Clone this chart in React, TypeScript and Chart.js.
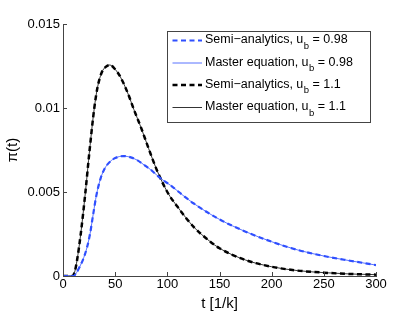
import React, { useEffect, useRef } from "react";
import { Chart, registerables } from "chart.js";

Chart.register(...registerables);

// Semi-analytics & master equation, u_b = 0.98 (blue)
const tBlue = [0, 5, 10, 13, 16, 19, 23, 26, 29, 32, 36, 40, 45, 50, 58, 65, 71, 78, 84, 90, 96, 103, 115, 125, 150, 175, 200, 225, 250, 275, 300];
const piBlue = [0, 0, 0, 0.0002, 0.00055, 0.00095, 0.0017, 0.00254, 0.0037, 0.0048, 0.0058, 0.0064, 0.0068, 0.00702, 0.00714, 0.00706, 0.0069, 0.0066, 0.00633, 0.006, 0.0057, 0.0054, 0.0048, 0.00433, 0.00337, 0.00264, 0.00204, 0.00155, 0.00119, 0.00091, 0.00065];

// Semi-analytics & master equation, u_b = 1.1 (black)
const tBlack = [0, 5, 9, 11, 13.5, 17, 21.5, 25.5, 30, 33, 37, 41, 45, 50, 55, 62, 68, 75, 82, 90, 100, 110, 125, 140, 150, 175, 200, 225, 250, 275, 300];
const piBlack = [0, 0, 0, 0.0002, 0.00095, 0.0025, 0.005, 0.0075, 0.01, 0.0112, 0.0121, 0.01245, 0.01256, 0.0123, 0.01185, 0.0109, 0.0099, 0.0088, 0.0076, 0.0063, 0.005, 0.0041, 0.00294, 0.0021, 0.00165, 0.00095, 0.00055, 0.00032, 0.0002, 0.00012, 0.00008];

const xTicks = [0, 50, 100, 150, 200, 250, 300];
const yTicks = [0, 0.005, 0.01, 0.015];
const yTickLabels = ["0", "0.005", "0.01", "0.015"];

const legendMain = ["Semi\u2212analytics, u", "Master equation, u", "Semi\u2212analytics, u", "Master equation, u"];
const legendSub = ["b", "b", "b", "b"];
const legendTail = [" = 0.98", " = 0.98", " = 1.1", " = 1.1"];

const BLUE = "#2f4fff";
const FONT = "'Liberation Sans', Arial, Helvetica, sans-serif";

const pts = (xs: number[], ys: number[]) => xs.map((x, i) => ({ x, y: ys[i] }));

const inwardTicks = {
  id: "inwardTicks",
  afterDraw(chart: any) {
    const { ctx, chartArea, scales } = chart;
    ctx.save();
    ctx.strokeStyle = "#444";
    ctx.lineWidth = 1;
    ctx.beginPath();
    xTicks.forEach((v) => {
      const x = Math.round(scales.x.getPixelForValue(v)) + 0.5;
      ctx.moveTo(x, chartArea.bottom);
      ctx.lineTo(x, chartArea.bottom - 4);
    });
    yTicks.forEach((v) => {
      const y = Math.round(scales.y.getPixelForValue(v)) + 0.5;
      ctx.moveTo(chartArea.left, y);
      ctx.lineTo(chartArea.left + 4, y);
    });
    ctx.stroke();
    ctx.restore();
  },
};

const subLegend = {
  id: "subLegend",
  afterDraw(chart: any) {
    const { ctx } = chart;
    const bx = 167.5, by = 31.5, bw = 203, bh = 91;
    ctx.save();
    ctx.fillStyle = "#fff";
    ctx.fillRect(bx, by, bw, bh);
    ctx.strokeStyle = "#444";
    ctx.lineWidth = 1;
    ctx.strokeRect(bx, by, bw, bh);
    const rows = [40, 62.5, 84.5, 107];
    chart.data.datasets.forEach((ds: any, i: number) => {
      const y = rows[i];
      ctx.save();
      ctx.strokeStyle = ds.borderColor;
      ctx.lineWidth = ds.borderWidth;
      ctx.setLineDash(ds.borderDash || []);
      ctx.beginPath();
      ctx.moveTo(172.5, y + 0.5);
      ctx.lineTo(202, y + 0.5);
      ctx.stroke();
      ctx.restore();
      ctx.fillStyle = "#000";
      ctx.textBaseline = "middle";
      ctx.textAlign = "left";
      ctx.font = `12.5px ${FONT}`;
      let x = 205;
      ctx.fillText(legendMain[i], x, y);
      x += ctx.measureText(legendMain[i]).width;
      ctx.font = `9.5px ${FONT}`;
      ctx.fillText(legendSub[i], x + 0.5, y + 6);
      x += ctx.measureText(legendSub[i]).width + 0.5;
      ctx.font = `12.5px ${FONT}`;
      ctx.fillText(legendTail[i], x, y);
    });
    ctx.restore();
  },
};

export default function App() {
  const ref = useRef<HTMLCanvasElement>(null);
  useEffect(() => {
    document.body.style.margin = "0";
    const chart = new Chart(ref.current as HTMLCanvasElement, {
      type: "line",
      data: {
        datasets: [
          {
            label: "Semi-analytics, u_b = 0.98",
            data: pts(tBlue, piBlue),
            borderColor: BLUE,
            borderWidth: 2.2,
            borderDash: [5, 3.5],
            pointRadius: 0,
            cubicInterpolationMode: "monotone",
          },
          {
            label: "Master equation, u_b = 0.98",
            data: pts(tBlue, piBlue),
            borderColor: BLUE,
            borderWidth: 0.8,
            pointRadius: 0,
            cubicInterpolationMode: "monotone",
          },
          {
            label: "Semi-analytics, u_b = 1.1",
            data: pts(tBlack, piBlack),
            borderColor: "#000",
            borderWidth: 2.5,
            borderDash: [5, 3.5],
            pointRadius: 0,
            cubicInterpolationMode: "monotone",
          },
          {
            label: "Master equation, u_b = 1.1",
            data: pts(tBlack, piBlack),
            borderColor: "#000",
            borderWidth: 0.8,
            pointRadius: 0,
            cubicInterpolationMode: "monotone",
          },
        ],
      },
      options: {
        animation: false,
        responsive: false,
        layout: { padding: { top: 24, right: 39, left: 0, bottom: 0 } },
        plugins: { legend: { display: false }, tooltip: { enabled: false } },
        scales: {
          x: {
            type: "linear",
            min: 0,
            max: 300,
            afterBuildTicks: (s: any) => {
              s.ticks = xTicks.map((v) => ({ value: v }));
            },
            afterFit: (s: any) => {
              s.height = 37;
            },
            ticks: { color: "#000", font: { family: FONT, size: 13 }, padding: 1, maxRotation: 0 },
            grid: { display: false, drawTicks: false },
            border: { display: true, color: "#444", width: 1 },
            title: { display: true, text: "t [1/k]", color: "#000", font: { family: FONT, size: 15 }, padding: { top: 1, bottom: 0 } },
          },
          y: {
            type: "linear",
            min: 0,
            max: 0.015,
            afterBuildTicks: (s: any) => {
              s.ticks = yTicks.map((v) => ({ value: v }));
            },
            afterFit: (s: any) => {
              s.width = 63;
            },
            ticks: {
              color: "#000",
              font: { family: FONT, size: 13 },
              padding: 3,
              callback: (v: any) => yTickLabels[yTicks.indexOf(Number(v))] ?? "",
            },
            grid: { display: false, drawTicks: false },
            border: { display: true, color: "#444", width: 1 },
            title: { display: true, text: "\u03c0(t)", color: "#000", font: { family: FONT, size: 15 }, padding: { top: 4, bottom: 4 } },
          },
        },
      } as any,
      plugins: [inwardTicks, subLegend],
    });
    return () => chart.destroy();
  }, []);
  return (
    <div style={{ position: "absolute", left: 0, top: 0, width: 415, height: 313, background: "#fff" }}>
      <canvas ref={ref} width={415} height={313} style={{ width: 415, height: 313 }} />
    </div>
  );
}
